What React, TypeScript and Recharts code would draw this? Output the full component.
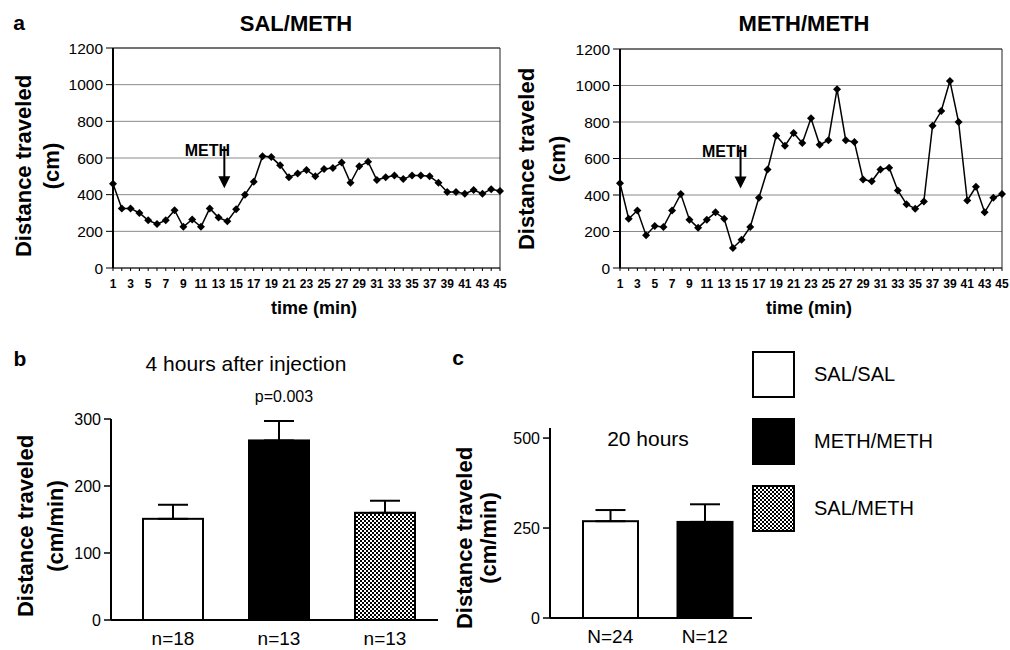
import React from "react";
import {
  LineChart,
  Line,
  BarChart,
  Bar,
  ErrorBar,
  XAxis,
  YAxis,
  CartesianGrid,
  ReferenceDot,
} from "recharts";

// time course, 1-min bins
const minutes = [
  1, 2, 3, 4, 5, 6, 7, 8, 9, 10, 11, 12, 13, 14, 15, 16, 17, 18, 19, 20, 21, 22, 23,
  24, 25, 26, 27, 28, 29, 30, 31, 32, 33, 34, 35, 36, 37, 38, 39, 40, 41, 42, 43, 44, 45,
];
const salMeth = [
  460, 325, 325, 300, 260, 240, 260, 315, 225, 265, 225, 325, 275, 255, 320, 400, 470,
  610, 605, 560, 495, 515, 535, 500, 540, 545, 575, 465, 555, 580, 480, 495, 505, 485,
  505, 505, 500, 465, 415, 415, 405, 425, 405, 430, 420,
];
const methMeth = [
  465, 270, 315, 180, 230, 225, 315, 405, 265, 220, 265, 305, 270, 110, 155, 225, 385,
  540, 725, 670, 740, 685, 820, 675, 700, 980, 700, 690, 485, 475, 540, 550, 425, 350,
  325, 365, 780, 860, 1025, 800, 370, 445, 305, 385, 405,
];
const lineTicks = [0, 200, 400, 600, 800, 1000, 1200];

// 4 h after injection
const groups4h = ["SAL/SAL", "METH/METH", "SAL/METH"];
const n4h = ["n=18", "n=13", "n=13"];
const mean4h = [151, 268, 160];
const sem4h = [21, 29, 18];
const ticks4h = [0, 100, 200, 300];

// 20 h
const groups20h = ["SAL/SAL", "METH/METH"];
const n20h = ["N=24", "N=12"];
const mean20h = [269, 267];
const sem20h = [31, 49];
const ticks20h = [0, 250, 500];

const FONT = "'Liberation Sans', Arial, Helvetica, sans-serif";
const groupFill: Record<string, string> = {
  "SAL/SAL": "#ffffff",
  "METH/METH": "#000000",
  "SAL/METH": "url(#checker)",
};

const Diamond = (props: any) => {
  const { cx, cy } = props;
  if (cx == null || cy == null) return null;
  const s = 4;
  return (
    <path
      d={`M${cx},${cy - s}L${cx + s},${cy}L${cx},${cy + s}L${cx - s},${cy}Z`}
      fill="#000"
    />
  );
};

const arrowShape = (dx: number, tdx: number) => (props: any) => {
  const cx = props.cx + dx;
  const cy = props.cy;
  return (
    <g>
      <line x1={cx} y1={cy - 42} x2={cx} y2={cy - 10} stroke="#000" strokeWidth={2} />
      <polygon points={`${cx - 6},${cy - 12} ${cx + 6},${cy - 12} ${cx},${cy}`} fill="#000" />
      <text
        x={cx + tdx}
        y={cy - 32}
        textAnchor="middle"
        fontFamily={FONT}
        fontWeight="bold"
        fontSize={16}
        fill="#000"
      >
        METH
      </text>
    </g>
  );
};

const TimeChart = ({
  values,
  margin,
  width,
  arrowAt,
  arrowDx,
  textDx,
}: {
  values: number[];
  margin: any;
  width: number;
  arrowAt: number;
  arrowDx: number;
  textDx: number;
}) => {
  const rows = minutes.map((m, i) => ({ min: m, dist: values[i] }));
  return (
    <LineChart width={width} height={320} data={rows} margin={margin}>
      <CartesianGrid vertical={false} stroke="#8a8a8a" />
      <CartesianGrid
        stroke="#222"
        horizontalCoordinatesGenerator={({ offset }: any) => [offset.top]}
        verticalCoordinatesGenerator={({ offset }: any) => [offset.left + offset.width]}
      />
      <XAxis
        dataKey="min"
        interval={0}
        height={32}
        tickSize={3}
        tickMargin={8}
        tickLine={{ stroke: "#000" }}
        axisLine={{ stroke: "#000" }}
        tick={{ fontSize: 12, fontWeight: "bold", fill: "#000", fontFamily: FONT }}
        tickFormatter={(v: number) => (v % 2 === 1 ? String(v) : "")}
      />
      <YAxis
        width={40}
        domain={[0, 1200]}
        ticks={lineTicks}
        interval={0}
        tickSize={7}
        tickMargin={3}
        axisLine={{ stroke: "#000", strokeWidth: 2 }}
        tickLine={{ stroke: "#000" }}
        tick={{ fontSize: 15.5, fill: "#000", fontFamily: FONT }}
      />
      <Line
        type="linear"
        dataKey="dist"
        stroke="#000"
        strokeWidth={1.5}
        dot={(p: any) => <Diamond key={`d${p.index}`} {...p} />}
        activeDot={false}
        isAnimationActive={false}
      />
      <ReferenceDot
        x={arrowAt}
        y={435}
        r={0}
        shape={arrowShape(arrowDx, textDx)}
        ifOverflow="visible"
      />
    </LineChart>
  );
};

const GroupBars = ({
  groups,
  labels,
  means,
  sems,
  ticks,
  domainMax,
  width,
  margin,
  barSize,
  padLeft,
  xHeight,
}: any) => {
  const rows = groups.map((g: string, i: number) => ({
    group: g,
    label: labels[i],
    mean: means[i],
    err: [0, sems[i]],
  }));
  const BarShape = (p: any) => (
    <rect
      x={p.x}
      y={p.y}
      width={p.width}
      height={p.height}
      fill={groupFill[p.payload.group]}
      stroke="#000"
      strokeWidth={2}
    />
  );
  return (
    <BarChart width={width} height={320} data={rows} margin={margin}>
      <XAxis
        dataKey="label"
        height={xHeight}
        padding={{ left: padLeft, right: 0 }}
        tickLine={false}
        tickSize={0}
        tickMargin={12}
        axisLine={{ stroke: "#000", strokeWidth: 2 }}
        tick={{ fontSize: 19, fill: "#000", fontFamily: FONT }}
      />
      <YAxis
        width={50}
        domain={[0, domainMax]}
        ticks={ticks}
        interval={0}
        tickSize={7}
        tickMargin={3}
        axisLine={{ stroke: "#000", strokeWidth: 2 }}
        tickLine={{ stroke: "#000", strokeWidth: 1.5 }}
        tick={{ fontSize: 16, fill: "#000", fontFamily: FONT }}
      />
      <Bar dataKey="mean" barSize={barSize} shape={BarShape} isAnimationActive={false}>
        <ErrorBar dataKey="err" width={15} stroke="#000" strokeWidth={2} direction="y" />
      </Bar>
    </BarChart>
  );
};

const YLabel = ({
  x,
  y,
  lines,
  lineHeight,
}: {
  x: number;
  y: number;
  lines: string[];
  lineHeight: number;
}) => (
  <div
    style={{
      position: "absolute",
      left: x,
      top: y,
      transform: "translate(-50%, -50%) rotate(-90deg)",
      fontFamily: FONT,
      fontWeight: "bold",
      fontSize: 22,
      lineHeight: `${lineHeight}px`,
      textAlign: "center",
      whiteSpace: "nowrap",
      color: "#000",
    }}
  >
    {lines.map((l) => (
      <div key={l}>{l}</div>
    ))}
  </div>
);

const Txt = ({ x, y, size, bold, children }: any) => (
  <div
    style={{
      position: "absolute",
      left: x,
      top: y,
      transform: "translate(-50%, -50%)",
      fontFamily: FONT,
      fontWeight: bold ? "bold" : "normal",
      fontSize: size,
      lineHeight: 1,
      whiteSpace: "nowrap",
      color: "#000",
    }}
  >
    {children}
  </div>
);

const Pos = ({ left, top, children }: any) => (
  <div style={{ position: "absolute", left, top }}>{children}</div>
);

const legendItems = ["SAL/SAL", "METH/METH", "SAL/METH"];

export default function App() {
  return (
    <div
      style={{
        position: "absolute",
        left: 0,
        top: 0,
        width: 1010,
        height: 650,
        background: "#fff",
        overflow: "hidden",
      }}
    >
      <svg width={0} height={0} style={{ position: "absolute" }}>
        <defs>
          <pattern id="checker" width={4} height={4} patternUnits="userSpaceOnUse">
            <rect width={4} height={4} fill="#000" />
            <rect x={0} y={0} width={2} height={2} fill="#fff" />
            <rect x={2} y={2} width={2} height={2} fill="#fff" />
          </pattern>
        </defs>
      </svg>

      {/* panel a */}
      <Txt x={19} y={22} size={21} bold>
        a
      </Txt>
      <Txt x={296} y={24} size={22} bold>
        SAL/METH
      </Txt>
      <Txt x={804} y={24} size={22} bold>
        METH/METH
      </Txt>
      <Pos left={0} top={0}>
        <TimeChart
          values={salMeth}
          width={510}
          margin={{ top: 48, right: 10, left: 73, bottom: 20 }}
          arrowAt={14}
          arrowDx={-3}
          textDx={-17}
        />
      </Pos>
      <Pos left={505} top={0}>
        <TimeChart
          values={methMeth}
          width={505}
          margin={{ top: 49, right: 8, left: 75, bottom: 20 }}
          arrowAt={15}
          arrowDx={-1}
          textDx={-16}
        />
      </Pos>
      <Txt x={314} y={308} size={18} bold>
        time (min)
      </Txt>
      <Txt x={809} y={308} size={18} bold>
        time (min)
      </Txt>
      <YLabel x={38} y={166} lines={["Distance traveled", "(cm)"]} lineHeight={28} />
      <YLabel x={542} y={159} lines={["Distance traveled", "(cm)"]} lineHeight={31} />

      {/* panel b */}
      <Txt x={20} y={358} size={21} bold>
        b
      </Txt>
      <Txt x={246} y={363} size={21}>
        4 hours after injection
      </Txt>
      <Txt x={284} y={397} size={16}>
        p=0.003
      </Txt>
      <Pos left={0} top={330}>
        <GroupBars
          groups={groups4h}
          labels={n4h}
          means={mean4h}
          sems={sem4h}
          ticks={ticks4h}
          domainMax={300}
          width={450}
          margin={{ top: 89, right: 12, left: 61, bottom: 0 }}
          barSize={60}
          padLeft={9}
          xHeight={30}
        />
      </Pos>
      <YLabel x={41} y={526} lines={["Distance traveled", "(cm/min)"]} lineHeight={30} />

      {/* panel c */}
      <Txt x={458} y={357} size={21} bold>
        c
      </Txt>
      <Txt x={648} y={438} size={21}>
        20 hours
      </Txt>
      <Pos left={440} top={330}>
        <GroupBars
          groups={groups20h}
          labels={n20h}
          means={mean20h}
          sems={sem20h}
          ticks={ticks20h}
          domainMax={528}
          width={330}
          margin={{ top: 98, right: 18, left: 60, bottom: 0 }}
          barSize={55}
          padLeft={13}
          xHeight={32}
        />
      </Pos>
      <YLabel x={477} y={538} lines={["Distance traveled", "(cm/min)"]} lineHeight={24} />

      {/* legend */}
      {legendItems.map((g, i) => (
        <div
          key={g}
          style={{
            position: "absolute",
            left: 752,
            top: 351 + i * 67,
            display: "flex",
            alignItems: "center",
            fontFamily: FONT,
            fontSize: 20,
            color: "#000",
          }}
        >
          <svg width={43} height={47}>
            <rect
              x={1}
              y={1}
              width={41}
              height={45}
              fill={groupFill[g]}
              stroke="#000"
              strokeWidth={2}
            />
          </svg>
          <span style={{ marginLeft: 19 }}>{g}</span>
        </div>
      ))}
    </div>
  );
}
